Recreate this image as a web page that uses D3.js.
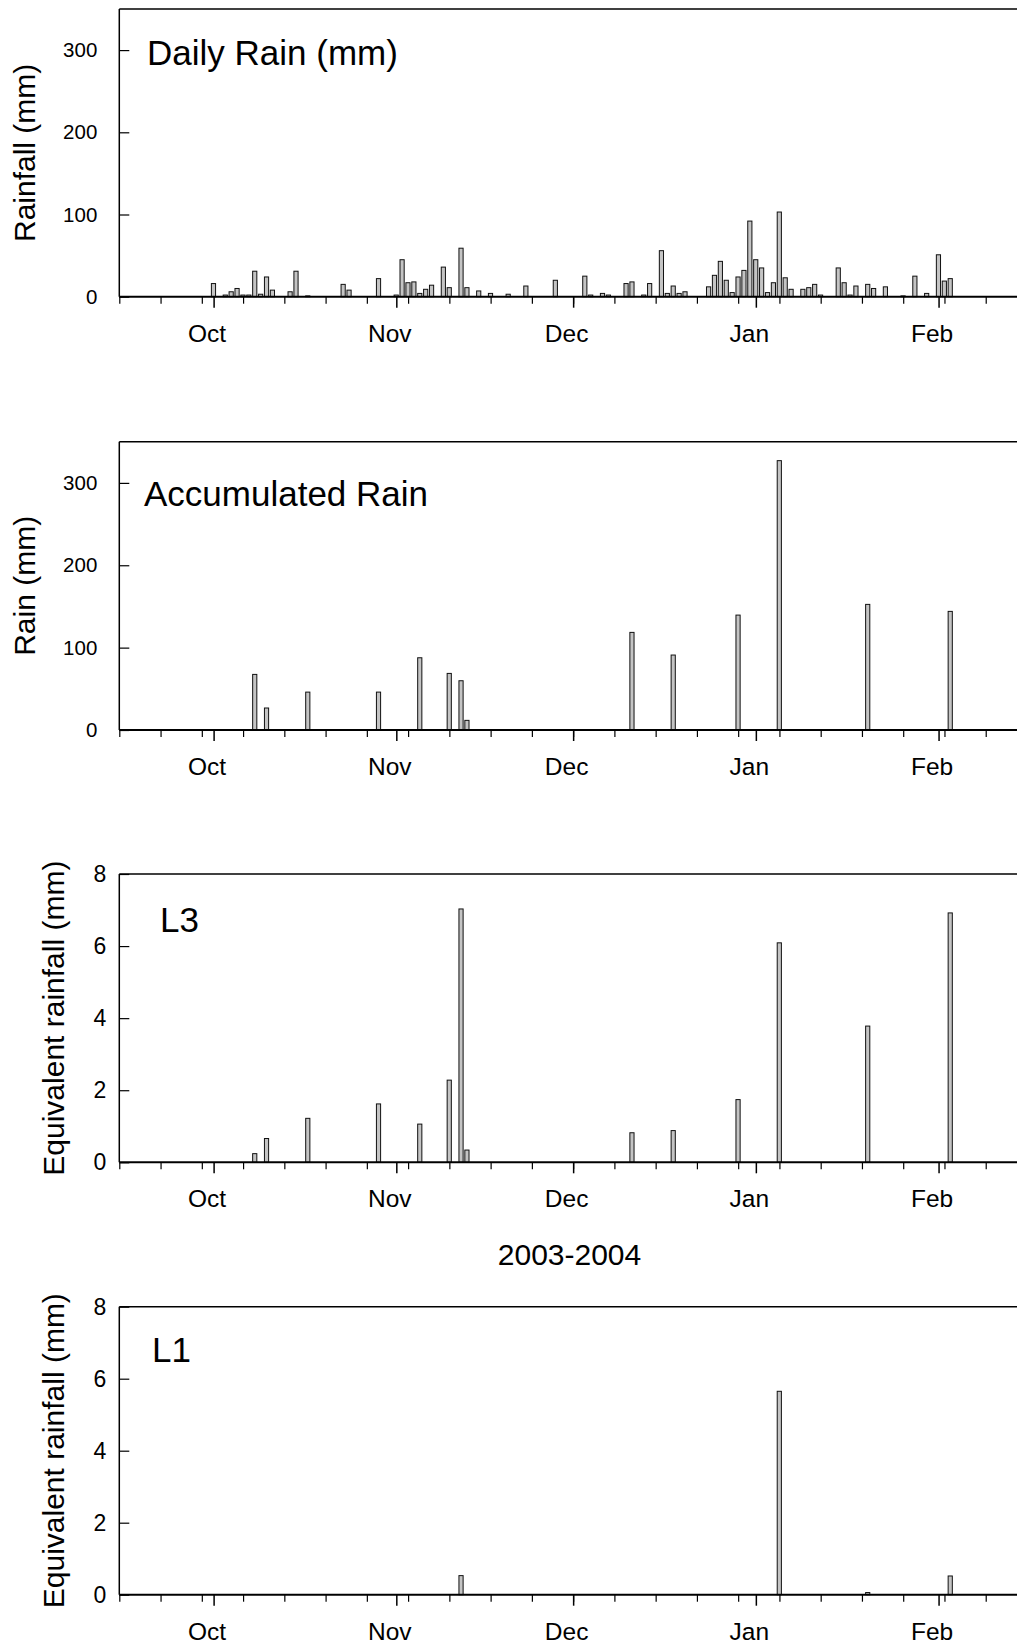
<!DOCTYPE html>
<html>
<head>
<meta charset="utf-8">
<script src="https://cdn.jsdelivr.net/npm/d3@7"></script>
<style>
  body { margin: 0; background: #fff; }
  svg { display: block; }
  text { font-family: "Liberation Sans", Arial, Helvetica, sans-serif; fill: #000; }
</style>
</head>
<body>
<svg id="chart" width="1017" height="1647"></svg>
<script>
// ---- Daily rainfall, season 2003-2004 (mm) ----
const dailyDates = [
  "2003-10-01","2003-10-03","2003-10-04","2003-10-05","2003-10-06","2003-10-07","2003-10-08",
  "2003-10-09","2003-10-10","2003-10-11","2003-10-14","2003-10-15","2003-10-17","2003-10-23",
  "2003-10-24","2003-10-29","2003-11-01","2003-11-02","2003-11-03","2003-11-04","2003-11-05",
  "2003-11-06","2003-11-07","2003-11-09","2003-11-10","2003-11-12","2003-11-13","2003-11-15",
  "2003-11-17","2003-11-20","2003-11-23","2003-11-28","2003-12-03","2003-12-04","2003-12-06",
  "2003-12-07","2003-12-10","2003-12-11","2003-12-13","2003-12-14","2003-12-16","2003-12-17",
  "2003-12-18","2003-12-19","2003-12-20","2003-12-24","2003-12-25","2003-12-26","2003-12-27",
  "2003-12-28","2003-12-29","2003-12-30","2003-12-31","2004-01-01","2004-01-02","2004-01-03",
  "2004-01-04","2004-01-05","2004-01-06","2004-01-07","2004-01-09","2004-01-10","2004-01-11",
  "2004-01-12","2004-01-15","2004-01-16","2004-01-17","2004-01-18","2004-01-20","2004-01-21",
  "2004-01-23","2004-01-26","2004-01-28","2004-01-30","2004-02-01","2004-02-02","2004-02-03"
];
const dailyRain = [
  16, 2, 6, 10, 2, 2, 31,
  3, 24, 8, 6, 31, 1, 15,
  8, 22, 2, 45, 17, 18, 4,
  9, 14, 36, 11, 59, 11, 7,
  4, 3, 13, 20, 25, 2, 4,
  2, 16, 18, 2, 16, 56, 4,
  13, 4, 6, 12, 26, 43, 20,
  5, 24, 32, 92, 45, 35, 5,
  17, 103, 23, 9, 9, 11, 15,
  2, 35, 17, 2, 13, 15, 10,
  12, 1, 25, 4, 51, 19, 22
];

// ---- Sampling dates: rain accumulated between samplings, and equivalent rainfall at L3 / L1 ----
const sampleDates = [
  "2003-10-08","2003-10-10","2003-10-17","2003-10-29","2003-11-05","2003-11-10","2003-11-12",
  "2003-11-13","2003-12-11","2003-12-18","2003-12-29","2004-01-05","2004-01-20","2004-02-03"
];
const accumulatedRain = [67.5, 26.7, 46, 46, 87.7, 68.7, 59.8, 11.7, 118.5, 91, 139.5, 327, 152.5, 144];
const equivL3 = [0.24, 0.66, 1.22, 1.62, 1.06, 2.28, 7.03, 0.34, 0.82, 0.88, 1.74, 6.09, 3.78, 6.92];
const l1Dates = ["2003-11-12","2004-01-05","2004-01-20","2004-02-03"];
const equivL1 = [0.53, 5.65, 0.06, 0.52];

// ---- Axis ticks and labels ----
const monthTicks = ["2003-10-01","2003-11-01","2003-12-01","2004-01-01","2004-02-01"];
const monthTickFormat = "%b";
const rainTicks = [0, 100, 200, 300];
const equivTicks = [0, 2, 4, 6, 8];
const seasonLabel = "2003-2004";

const parse = d3.timeParse("%Y-%m-%d");
const svg = d3.select("#chart");

// shared time scale (one day ≈ 5.9 px), starting on Monday 15 Sep 2003
const xStart = parse("2003-09-15"), xEnd = parse("2004-03-01");
const x0 = 119.3, pxPerDay = 5.894;
const x = d3.scaleTime()
  .domain([xStart, xEnd])
  .range([x0, x0 + d3.timeDay.count(xStart, xEnd) * pxPerDay]);

const halfBar = 0.35; // bar half-width in days

const panels = [
  { top: 9, bottom: 296.7, ymax: 350, ticks: rainTicks, dates: dailyDates, values: dailyRain,
    title: "Daily Rain (mm)", titleX: 147, titleY: 64.5,
    ylabel: "Rainfall (mm)", ylabelX: 35, tickFont: 20.5, tickPad: 22 },
  { top: 441.7, bottom: 730, ymax: 350, ticks: rainTicks, dates: sampleDates, values: accumulatedRain,
    title: "Accumulated Rain", titleX: 144, titleY: 506,
    ylabel: "Rain (mm)", ylabelX: 35, tickFont: 20.5, tickPad: 22 },
  { top: 874, bottom: 1162.3, ymax: 8, ticks: equivTicks, dates: sampleDates, values: equivL3,
    title: "L3", titleX: 160, titleY: 931.5,
    ylabel: "Equivalent rainfall (mm)", ylabelX: 64, tickFont: 23, tickPad: 13 },
  { top: 1306.7, bottom: 1594.7, ymax: 8, ticks: equivTicks, dates: l1Dates, values: equivL1,
    title: "L1", titleX: 152, titleY: 1362,
    ylabel: "Equivalent rainfall (mm)", ylabelX: 64, tickFont: 23, tickPad: 13 }
];

panels.forEach(p => {
  const g = svg.append("g");
  const y = d3.scaleLinear().domain([0, p.ymax]).range([p.bottom, p.top]);

  // bars
  const data = p.dates.map((d, i) => ({ date: parse(d), value: p.values[i] }));
  g.append("g").selectAll("rect").data(data).join("rect")
    .attr("x", d => x(d3.timeHour.offset(d.date, -halfBar * 24)))
    .attr("width", d => x(d3.timeHour.offset(d.date, halfBar * 24)) - x(d3.timeHour.offset(d.date, -halfBar * 24)))
    .attr("y", d => y(d.value))
    .attr("height", d => y(0) - y(d.value))
    .attr("fill", "#c4c4c4")
    .attr("stroke", "#111")
    .attr("stroke-width", 1);

  // frame: top border and y axis line
  g.append("line").attr("x1", x0).attr("x2", 1017).attr("y1", y(p.ymax)).attr("y2", y(p.ymax))
    .attr("stroke", "#000").attr("stroke-width", 1.5);
  g.append("line").attr("x1", x0).attr("x2", x0).attr("y1", y(p.ymax)).attr("y2", y(0))
    .attr("stroke", "#000").attr("stroke-width", 1.5);

  // y axis (ticks pointing inward)
  const ya = g.append("g").attr("transform", `translate(${x0},0)`)
    .call(d3.axisLeft(y).tickValues(p.ticks).tickFormat(d3.format("d"))
      .tickSizeInner(-10).tickSizeOuter(0).tickPadding(p.tickPad));
  ya.select(".domain").remove();
  ya.selectAll(".tick line").attr("stroke", "#000").attr("stroke-width", 1.2);
  ya.selectAll(".tick text").attr("font-size", p.tickFont).attr("font-family", null);

  // x axis: weekly minor ticks and monthly major ticks with labels
  const minor = g.append("g").attr("transform", `translate(0,${p.bottom})`)
    .call(d3.axisBottom(x).ticks(d3.timeMonday.every(1)).tickFormat("").tickSizeInner(7).tickSizeOuter(0));
  minor.select(".domain").remove();
  minor.selectAll(".tick line").attr("stroke", "#000").attr("stroke-width", 1.2);

  const major = g.append("g").attr("transform", `translate(0,${p.bottom})`)
    .call(d3.axisBottom(x).tickValues(monthTicks.map(parse)).tickFormat(d3.timeFormat(monthTickFormat))
      .tickSizeInner(11).tickSizeOuter(0));
  major.select(".domain").remove();
  major.selectAll(".tick line").attr("stroke", "#000").attr("stroke-width", 1.5);
  major.selectAll(".tick text").attr("font-size", 24.5).attr("font-family", null)
    .attr("y", 45).attr("dy", null).attr("dx", -7);

  // x axis baseline
  g.append("line").attr("x1", x0).attr("x2", 1017).attr("y1", y(0)).attr("y2", y(0))
    .attr("stroke", "#000").attr("stroke-width", 2);

  // panel title
  g.append("text").attr("x", p.titleX).attr("y", p.titleY)
    .attr("font-size", 35).text(p.title);

  // y axis label
  g.append("text")
    .attr("transform", `translate(${p.ylabelX},${(p.top + p.bottom) / 2}) rotate(-90)`)
    .attr("text-anchor", "middle")
    .attr("font-size", 30)
    .text(p.ylabel);
});

// season label between the L3 and L1 panels
svg.append("text").attr("x", 569.5).attr("y", 1265).attr("text-anchor", "middle")
  .attr("font-size", 30).text(seasonLabel);
</script>
</body>
</html>
